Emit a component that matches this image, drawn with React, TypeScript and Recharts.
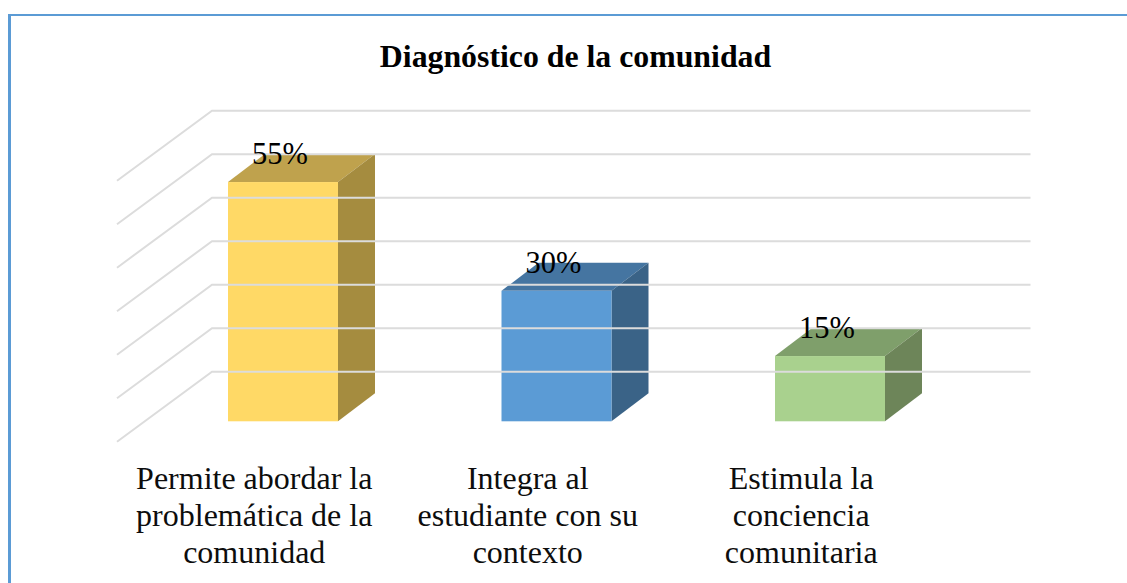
import React from "react";
import { BarChart, Bar, XAxis, YAxis, ReferenceLine, LabelList, Customized } from "recharts";

const categories = ["Permite abordar la problemática de la comunidad", "Integra al estudiante con su contexto", "Estimula la conciencia comunitaria"];
const categoryLines: Record<string, string[]> = {
  [categories[0]]: ["Permite abordar la", "problemática de la", "comunidad"],
  [categories[1]]: ["Integra al", "estudiante con su", "contexto"],
  [categories[2]]: ["Estimula la", "conciencia", "comunitaria"],
};
const values = [55, 30, 15];
const gridValues = [0, 10, 20, 30, 40, 50, 60];
const frontColors = ["#FFD966", "#5B9BD5", "#A9D18E"];
const topColors = ["#BFA24D", "#4575A1", "#7F9F6B"];
const sideColors = ["#A58C3F", "#3A6387", "#6D8559"];
const title = "Diagnóstico de la comunidad";

const data = categories.map((name, i) => ({ name, value: values[i] }));
const FONT = '"Liberation Serif", "Times New Roman", serif';
const DX = 37;
const DY = 28;

const Bar3D = (p: any) => {
  const { x, y, width: w, height: h, index } = p;
  return (
    <g>
      <polygon points={`${x},${y} ${x + w},${y} ${x + w + DX},${y - DY} ${x + DX},${y - DY}`} fill={topColors[index]} />
      <polygon points={`${x + w},${y} ${x + w + DX},${y - DY} ${x + w + DX},${y + h - DY} ${x + w},${y + h}`} fill={sideColors[index]} />
      <rect x={x} y={y} width={w} height={h} fill={frontColors[index]} />
    </g>
  );
};

const GridLine = (p: any) => {
  const y = p.y1 ?? p.viewBox?.y ?? 0;
  const d = `M117 ${y + 20.4} L212 ${y - 49.6} L1030.5 ${y - 49.6}`;
  return <path d={d} fill="none" stroke="#DCDCDC" strokeWidth={2} />;
};

const Tick = (p: any) => {
  const { x, payload } = p;
  const lines = categoryLines[payload.value] ?? [payload.value];
  return (
    <g>
      {lines.map((l: string, i: number) => (
        <text key={i} x={x - 28.5} y={489 + i * 37} textAnchor="middle" fontFamily={FONT} fontSize={32} fill="#0d0d0d">
          {l}
        </text>
      ))}
    </g>
  );
};

const ValueLabel = (p: any) => {
  const { x, y, width, value } = p;
  return (
    <text x={x + width / 2 - 3} y={y - 18} textAnchor="middle" fontFamily={FONT} fontSize={30.5} fill="#000">
      {value}%
    </text>
  );
};

const Title = () => (
  <text x={575.5} y={66.5} textAnchor="middle" fontFamily={FONT} fontSize={31.8} fontWeight="bold" fill="#000">
    {title}
  </text>
);

export default function App() {
  return (
    <div style={{ position: "absolute", left: 0, top: 0, width: 1127, height: 583, overflow: "hidden", background: "#fff" }}>
      <div style={{ position: "absolute", left: 8, top: 14, width: 1200, height: 700, borderStyle: "solid", borderColor: "#5B9BD5", borderWidth: "2px 0 0 3px", boxSizing: "border-box" }} />
      <div style={{ position: "absolute", left: 0, top: 0 }}>
        <BarChart width={1127} height={583} data={data} margin={{ top: 160.3, right: 160.5, bottom: 0, left: 146 }} barSize={110}>
          <XAxis dataKey="name" height={161.7} axisLine={false} tickLine={false} tick={<Tick />} interval={0} />
          <YAxis hide domain={[0, 60]} />
          {gridValues.map((v) => (
            <ReferenceLine key={v} y={v} ifOverflow="visible" shape={<GridLine />} />
          ))}
          <Customized component={<Title />} />
          <Bar dataKey="value" isAnimationActive={false} shape={<Bar3D />}>
            <LabelList dataKey="value" content={<ValueLabel />} />
          </Bar>
        </BarChart>
      </div>
    </div>
  );
}
